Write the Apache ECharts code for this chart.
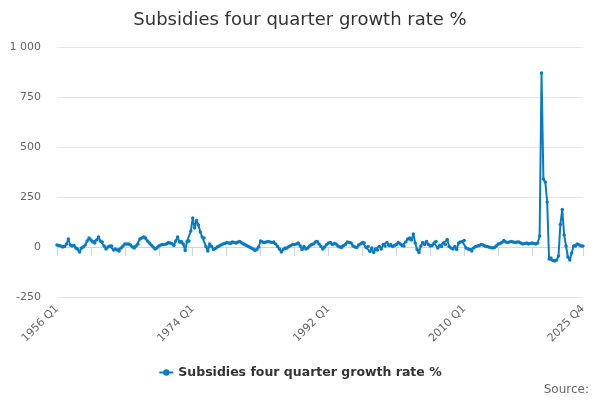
<!DOCTYPE html>
<html>
<head>
<meta charset="utf-8">
<script src="https://cdn.jsdelivr.net/npm/echarts@6/dist/echarts.min.js"></script>
<style>
  html, body { margin: 0; padding: 0; background: #fff; }
  #chart { width: 600px; height: 400px; }
</style>
</head>
<body>
<div id="chart"></div>
<script>
// quarters 1956 Q1 .. 2025 Q4
const startYear = 1956;
const endYear = 2025;
const categories = [];
for (let y = startYear; y <= endYear; y++) {
  for (let q = 1; q <= 4; q++) categories.push(y + ' Q' + q);
}

// four quarter growth rate
const growthRate = [
  10, 8, 5, 0, 2, 15, 40, 10, 5, 8,
  -5, -10, -25, -5, 0, 10, 30, 45, 35, 25,
  20, 35, 50, 30, 25, 5, -10, 0, 5, 5,
  -15, -10, -15, -20, -5, 5, 15, 15, 15, 10,
  0, -5, 5, 15, 40, 45, 50, 45, 30, 20,
  10, 0, -10, -5, 5, 10, 12, 12, 15, 23,
  20, 18, 7, 30, 50, 25, 28, 15, -17, 28,
  30, 80, 145, 95, 133, 110, 75, 50, 45, 3,
  -20, 15, 2, -12, -8, 0, 5, 10, 15, 18,
  22, 20, 18, 25, 22, 20, 25, 28, 20, 15,
  10, 5, 0, -5, -10, -17, -12, 0, 30, 25,
  22, 25, 28, 25, 23, 25, 15, 3, -10, -25,
  -13, -5, -5, 3, 8, 12, 12, 15, 20, 5,
  -13, 3, -10, -5, 5, 12, 15, 25, 28, 15,
  3, -10, 0, 12, 20, 23, 12, 18, 15, 5,
  0, -2, 8, 12, 25, 22, 20, 5, 0, -2,
  10, 15, 22, 20, -3, 3, -22, -5, -27, -10,
  -15, 3, -10, 12, 5, 23, 8, 12, 3, 8,
  12, 23, 15, 8, 5, 25, 40, 45, 35, 65,
  20, -13, -27, 5, 23, 12, 28, 12, 5, 7,
  20, 28, -5, 7, 3, 20, 12, 37, 3, -5,
  -10, 3, -13, 20, 25, 28, 33, -5, -10, -13,
  -20, -5, 3, 5, 8, 12, 10, 5, 2, 0,
  -3, -5, -2, 5, 15, 18, 22, 32, 25, 22,
  25, 28, 25, 22, 25, 25, 20, 15, 18, 20,
  15, 18, 20, 18, 15, 20, 55, 870, 340, 325,
  225, -60, -55, -68, -70, -65, -45, 113, 188, 60,
  5, -50, -65, -30, 5, 5, 15, 10, 5, 5
];

const seriesName = 'Subsidies four quarter growth rate %';
const yTicks = [-250, 0, 250, 500, 750, 1000];

const font = 'DejaVu Sans, sans-serif';
const last = categories.length - 1;

const chart = echarts.init(document.getElementById('chart'));
chart.setOption({
  animation: false,
  textStyle: { fontFamily: font },
  title: {
    text: seriesName,
    left: 'center',
    top: 6,
    textStyle: { fontSize: 18, fontWeight: 'normal', color: '#333', fontFamily: font }
  },
  grid: { left: 57, right: 17, top: 47, bottom: 103 },
  legend: {
    bottom: 16,
    left: 'center',
    itemWidth: 14,
    itemHeight: 8,
    itemGap: 6,
    data: [seriesName],
    textStyle: { fontSize: 12.5, fontWeight: 'bold', color: '#333', fontFamily: font }
  },
  xAxis: {
    type: 'category',
    data: categories,
    boundaryGap: false,
    axisLine: { lineStyle: { color: '#ccd6eb' } },
    axisTick: {
      length: 9,
      lineStyle: { color: '#ccd6eb' },
      interval: (i) => i % 18 === 0 || i === last
    },
    axisLabel: {
      rotate: 45,
      color: '#666',
      fontSize: 11,
      margin: 10,
      fontFamily: font,
      interval: (i) => i % 72 === 0 || i === last
    },
    splitLine: { show: false }
  },
  yAxis: {
    type: 'value',
    min: yTicks[0],
    max: yTicks[yTicks.length - 1],
    interval: 250,
    axisLine: { show: false },
    axisTick: { show: false },
    axisLabel: {
      color: '#666',
      fontSize: 11,
      margin: 16,
      fontFamily: font,
      formatter: (v) => String(v).replace(/\B(?=(\d{3})+(?!\d))/g, ' ')
    },
    splitLine: { lineStyle: { color: '#e6e6e6' } }
  },
  series: [{
    name: seriesName,
    type: 'line',
    data: growthRate,
    color: '#0a7bc1',
    symbol: 'circle',
    symbolSize: 3.5,
    showAllSymbol: true,
    lineStyle: { width: 2 },
    emphasis: { disabled: true }
  }],
  graphic: [{
    type: 'text',
    right: 11,
    top: 384,
    style: { text: 'Source:', fontSize: 12, fill: '#666', fontFamily: font }
  }]
});
</script>
</body>
</html>
